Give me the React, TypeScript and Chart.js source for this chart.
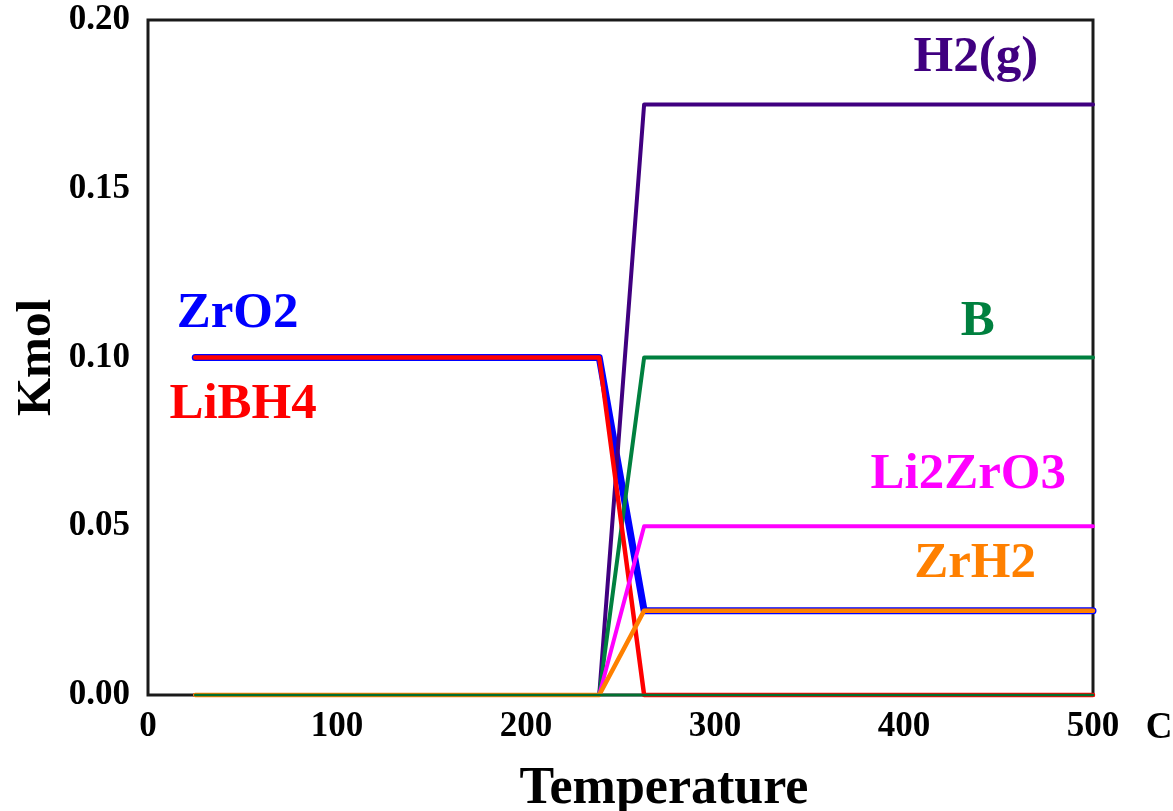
import React, { useEffect, useRef } from "react";
import { Chart, registerables } from "chart.js";

Chart.register(...registerables);

// ---- data ----
const temperatures = [25, 48.75, 72.5, 96.25, 120, 143.75, 167.5, 191.25, 215, 238.75, 262.5, 286.25, 310, 333.75, 357.5, 381.25, 405, 428.75, 452.5, 476.25, 500];
const zrO2 = [0.1, 0.1, 0.1, 0.1, 0.1, 0.1, 0.1, 0.1, 0.1, 0.1, 0.025, 0.025, 0.025, 0.025, 0.025, 0.025, 0.025, 0.025, 0.025, 0.025, 0.025];
const liBH4 = [0.1, 0.1, 0.1, 0.1, 0.1, 0.1, 0.1, 0.1, 0.1, 0.1, 0, 0, 0, 0, 0, 0, 0, 0, 0, 0, 0];
const h2g = [0, 0, 0, 0, 0, 0, 0, 0, 0, 0, 0.175, 0.175, 0.175, 0.175, 0.175, 0.175, 0.175, 0.175, 0.175, 0.175, 0.175];
const boron = [0, 0, 0, 0, 0, 0, 0, 0, 0, 0, 0.1, 0.1, 0.1, 0.1, 0.1, 0.1, 0.1, 0.1, 0.1, 0.1, 0.1];
const li2ZrO3 = [0, 0, 0, 0, 0, 0, 0, 0, 0, 0, 0.05, 0.05, 0.05, 0.05, 0.05, 0.05, 0.05, 0.05, 0.05, 0.05, 0.05];
const zrH2 = [0, 0, 0, 0, 0, 0, 0, 0, 0, 0, 0.025, 0.025, 0.025, 0.025, 0.025, 0.025, 0.025, 0.025, 0.025, 0.025, 0.025];
const otherSpecies = [0, 0, 0, 0, 0, 0, 0, 0, 0, 0, 0, 0, 0, 0, 0, 0, 0, 0, 0, 0, 0];
const xTickValues = [0, 100, 200, 300, 400, 500];
const yTickValues = [0, 0.05, 0.1, 0.15, 0.2];

const FONT = "'Liberation Serif', 'Times New Roman', serif";

// label anchor positions (data coordinates) and colours
const speciesLabels = [
  { text: "H2(g)", x: 438, y: 0.185, color: "#400080" },
  { text: "B", x: 439, y: 0.1067, color: "#00803f" },
  { text: "Li2ZrO3", x: 434, y: 0.0613, color: "#ff00ff" },
  { text: "ZrH2", x: 437.6, y: 0.035, color: "#ff8000" },
  { text: "ZrO2", x: 47.4, y: 0.109, color: "#0000ff" },
  { text: "LiBH4", x: 50.3, y: 0.082, color: "#ff0000" },
];

function pts(ys: number[]) {
  return temperatures.map((t, i) => ({ x: t, y: ys[i] }));
}

const decorPlugin = {
  id: "decor",
  beforeDatasetsDraw(chart: any) {
    const { ctx, chartArea } = chart;
    ctx.save();
    ctx.strokeStyle = "#1a1a1a";
    ctx.lineWidth = 3;
    ctx.strokeRect(chartArea.left, chartArea.top, chartArea.right - chartArea.left, chartArea.bottom - chartArea.top);
    ctx.restore();
  },
  afterDraw(chart: any) {
    const { ctx, chartArea, scales } = chart;
    ctx.save();
    ctx.font = `bold 51px ${FONT}`;
    ctx.textAlign = "center";
    ctx.textBaseline = "alphabetic";
    for (const l of speciesLabels) {
      ctx.fillStyle = l.color;
      ctx.fillText(l.text, scales.x.getPixelForValue(l.x), scales.y.getPixelForValue(l.y));
    }
    ctx.fillStyle = "#000";
    ctx.font = `bold 52px ${FONT}`;
    ctx.fillText("Temperature", 664, 803);
    ctx.save();
    ctx.font = `bold 49px ${FONT}`;
    ctx.translate(50, (chartArea.top + chartArea.bottom) / 2);
    ctx.rotate(-Math.PI / 2);
    ctx.fillText("Kmol", 0, 0);
    ctx.restore();
    ctx.font = `bold 37px ${FONT}`;
    ctx.fillText("C", 1159, 738);
    ctx.restore();
  },
};

export default function App() {
  const ref = useRef<HTMLCanvasElement | null>(null);
  useEffect(() => {
    document.body.style.margin = "0";
    const canvas = ref.current!;
    const mk = (label: string, data: number[], color: string, width: number, order: number) => ({
      label,
      data: pts(data),
      borderColor: color,
      backgroundColor: color,
      borderWidth: width,
      pointRadius: 0,
      tension: 0,
      fill: false,
      clip: false,
      borderCapStyle: "round",
      borderJoinStyle: "round",
      order,
    });
    const chart = new Chart(canvas, {
      type: "line",
      data: {
        datasets: [
          mk("ZrO2", zrO2, "#0000ff", 7, 7),
          mk("H2(g)", h2g, "#400080", 4, 6),
          mk("B", boron, "#00803f", 4, 5),
          mk("LiBH4", liBH4, "#ff0000", 4.5, 4),
          mk("Li2ZrO3", li2ZrO3, "#ff00ff", 4, 3),
          mk("ZrH2", zrH2, "#ff8000", 4.5, 2),
          mk("other", otherSpecies, "#007030", 2.5, 1),
        ] as any,
      },
      options: {
        responsive: false,
        animation: false,
        events: [],
        layout: { padding: { left: 0, right: 80, top: 20, bottom: 0 } },
        plugins: { legend: { display: false }, tooltip: { enabled: false }, title: { display: false } },
        scales: {
          x: {
            type: "linear",
            min: 0,
            max: 500,
            grid: { display: false, drawTicks: false },
            border: { display: false },
            afterFit(scale: any) {
              scale.height = 116;
              scale.paddingLeft = 0;
              scale.paddingRight = 0;
            },
            afterBuildTicks(scale: any) {
              scale.ticks = xTickValues.map((v) => ({ value: v }));
            },
            ticks: {
              autoSkip: false,
              maxRotation: 0,
              padding: 11,
              color: "#000",
              font: { family: FONT, size: 35, weight: "bold" },
              callback: (v: any) => String(v),
            },
          },
          y: {
            type: "linear",
            min: 0,
            max: 0.2,
            grid: { display: false, drawTicks: false },
            border: { display: false },
            afterFit(scale: any) {
              scale.width = 148;
              scale.paddingTop = 0;
              scale.paddingBottom = 0;
            },
            afterBuildTicks(scale: any) {
              scale.ticks = yTickValues.map((v) => ({ value: v }));
            },
            ticks: {
              autoSkip: false,
              padding: 18,
              color: "#000",
              font: { family: FONT, size: 35, weight: "bold" },
              callback: (v: any) => Number(v).toFixed(2),
            },
          },
        },
      } as any,
      plugins: [decorPlugin],
    });
    return () => chart.destroy();
  }, []);
  return <canvas ref={ref} width={1173} height={811} style={{ display: "block" }} />;
}
